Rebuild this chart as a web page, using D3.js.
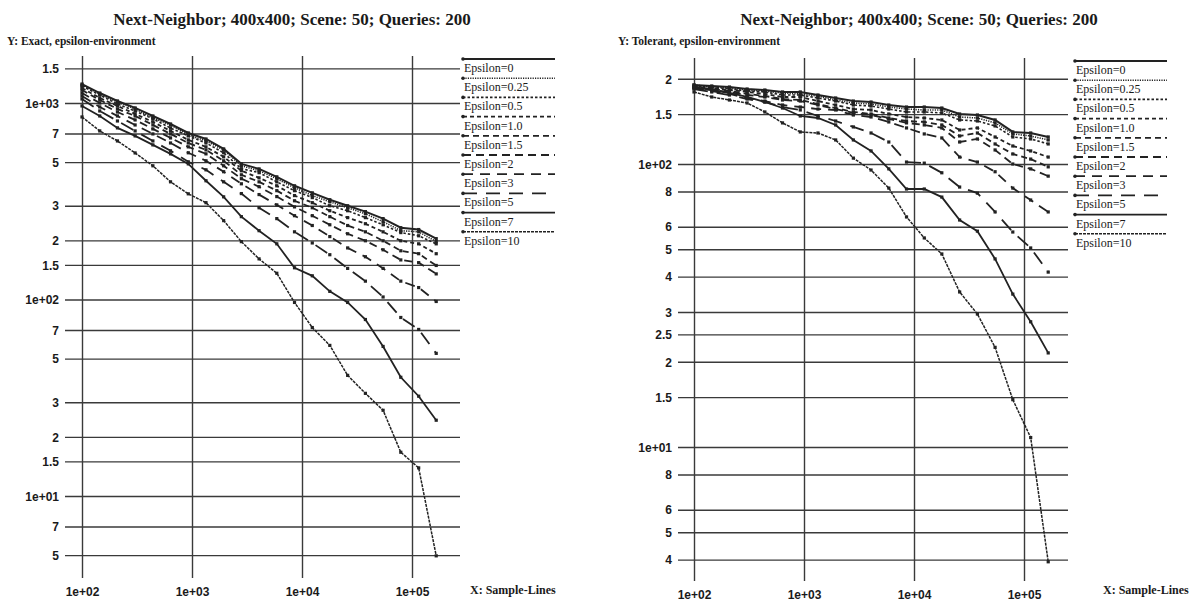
<!DOCTYPE html>
<html>
<head>
<meta charset="utf-8">
<script src="https://cdn.jsdelivr.net/npm/d3@7"></script>
<style>
  body { margin: 0; background: #fff; }
  svg { display: block; font-family: "Liberation Serif", "DejaVu Serif", serif; }
  .tick text { font-size: 12px; font-weight: bold; fill: #1a1a1a; }
  .tick line { stroke: #3a3a3a; stroke-width: 1.4; }
  .title { font-size: 17px; font-weight: bold; fill: #1a1a1a; }
  .sub { font-size: 11.5px; font-weight: bold; fill: #1a1a1a; }
  .legend text { font-size: 12px; fill: #1a1a1a; }
</style>
</head>
<body>
<div id="chart"></div>
<script>
/* Sample-line counts, shared by both panels (x). */
const sampleLines = [100, 145, 210, 304, 441, 638, 925, 1340, 1940, 2810, 4070,
  5900, 8550, 12400, 17900, 26000, 37700, 54600, 79100, 115000, 166000];

const epsilonLabels = ["Epsilon=0", "Epsilon=0.25", "Epsilon=0.5", "Epsilon=1.0", "Epsilon=1.5",
  "Epsilon=2", "Epsilon=3", "Epsilon=5", "Epsilon=7", "Epsilon=10"];

/* Left panel: exact, epsilon-environment (one row per epsilon). */
const exactValues = [
  [1249, 1124, 1024, 944, 859, 782, 704, 656, 584, 490, 462, 421, 379, 349, 322, 300, 280, 258, 232, 227, 204],
  [1234, 1111, 1012, 933, 839, 773, 688, 641, 577, 479, 452, 412, 370, 338, 314, 293, 273, 249, 224, 221, 197],
  [1220, 1098, 989, 911, 830, 746, 680, 626, 558, 463, 442, 397, 358, 330, 300, 283, 261, 240, 219, 211, 192],
  [1191, 1061, 966, 880, 801, 721, 649, 598, 532, 452, 416, 379, 338, 311, 283, 261, 243, 221, 199, 192, 171],
  [1164, 1036, 933, 859, 773, 696, 626, 577, 508, 431, 397, 358, 318, 293, 264, 238, 221, 199, 177, 171, 149],
  [1124, 1000, 900, 820, 738, 664, 598, 551, 479, 412, 375, 334, 296, 267, 240, 216, 199, 179, 159, 154, 135],
  [1086, 955, 859, 773, 696, 626, 558, 508, 447, 388, 342, 303, 267, 238, 209, 183, 165, 144, 124, 115, 97.7],
  [1048, 911, 810, 721, 641, 571, 502, 457, 397, 346, 293, 258, 221, 194, 169, 144, 124, 103, 81, 70.4, 53.2],
  [966, 859, 747, 680, 612, 551, 490, 402, 333, 264, 224, 192, 145, 132, 110, 96.6, 79.1, 57.7, 40.2, 32.2, 24.3],
  [849, 721, 641, 557, 479, 397, 345, 311, 252, 197, 161, 136, 96.6, 72, 58.4, 41.1, 33.3, 27.3, 16.7, 13.9, 4.96]
];

/* Right panel: tolerant, epsilon-environment. */
const tolerantValues = [
  [190.2, 188.7, 187.1, 184.1, 182.6, 179.7, 179.7, 175.3, 171.1, 166.9, 165.6, 161.6, 159.0, 159.0, 157.7, 150.2, 149.0, 143.1, 129.8, 128.7, 124.6],
  [190.2, 187.1, 185.6, 182.6, 181.1, 178.2, 176.8, 173.9, 168.3, 164.3, 162.9, 159.0, 156.4, 155.2, 155.2, 146.6, 145.4, 139.7, 127.7, 125.6, 121.6],
  [188.7, 187.1, 184.1, 181.1, 179.7, 175.3, 175.3, 171.1, 166.9, 161.6, 160.3, 156.4, 152.7, 152.7, 151.5, 143.1, 141.9, 136.3, 124.6, 122.6, 117.7],
  [187.1, 185.6, 182.6, 179.7, 176.8, 172.5, 172.5, 166.9, 161.6, 156.4, 155.2, 150.2, 146.6, 145.4, 143.1, 131.9, 134.1, 124.6, 115.8, 111.2, 105.8],
  [187.1, 184.1, 181.1, 176.8, 173.9, 169.7, 168.3, 162.9, 157.7, 152.7, 150.2, 145.4, 141.9, 140.8, 137.4, 125.6, 128.7, 117.7, 108.5, 104.1, 97.7],
  [185.6, 182.6, 179.7, 175.3, 172.5, 168.3, 166.9, 161.6, 156.4, 151.5, 149.0, 144.3, 139.7, 137.4, 134.1, 119.6, 122.6, 112.1, 100.0, 96.1, 90.6],
  [185.6, 181.1, 176.8, 171.1, 166.9, 161.6, 159.0, 156.4, 155.2, 149.0, 146.6, 140.8, 134.1, 127.7, 123.6, 105.8, 101.6, 93.9, 82.2, 74.6, 67.7],
  [184.1, 179.7, 175.3, 169.7, 165.6, 159.0, 155.2, 147.8, 141.9, 135.2, 128.7, 119.6, 101.6, 100.7, 93.1, 82.9, 78.9, 67.7, 57.5, 50.5, 41.5],
  [187.1, 182.6, 178.2, 172.5, 165.6, 157.7, 147.8, 145.4, 137.4, 121.6, 111.2, 96.1, 81.6, 81.6, 76.4, 63.4, 57.9, 46.2, 34.7, 27.7, 21.5],
  [179.7, 172.5, 168.3, 164.3, 152.7, 139.7, 129.8, 128.7, 121.6, 104.9, 95.2, 82.2, 65.0, 54.8, 48.1, 35.3, 29.5, 22.5, 14.7, 10.8, 3.93]
];

/* Tick values and their printed labels. */
const xTicks = [100, 1000, 10000, 100000];
const xTickLabels = ["1e+02", "1e+03", "1e+04", "1e+05"];
const exactTicks = [1500, 1000, 700, 500, 300, 200, 150, 100, 70, 50, 30, 20, 15, 10, 7, 5];
const exactTickLabels = ["1.5", "1e+03", "7", "5", "3", "2", "1.5", "1e+02", "7", "5", "3", "2", "1.5", "1e+01", "7", "5"];
const tolerantTicks = [200, 150, 100, 80, 60, 50, 40, 30, 25, 20, 15, 10, 8, 6, 5, 4];
const tolerantTickLabels = ["2", "1.5", "1e+02", "8", "6", "5", "4", "3", "2.5", "2", "1.5", "1e+01", "8", "6", "5", "4"];

const title = "Next-Neighbor; 400x400; Scene: 50; Queries: 200";

/* Line style per epsilon: dash pattern and width. */
const dashes = [null, "1.2,1.2", "2.5,2", "4,3", "6,4", "8,5", "10,7", "14,9", null, "3,1"];
const widths = [2, 1.6, 1.6, 1.8, 1.8, 1.8, 1.8, 1.8, 1.8, 1.5];

const svg = d3.select("#chart")
  .append("svg")
  .attr("width", 1204)
  .attr("height", 605);

drawPanel({
  values: exactValues,
  ticks: exactTicks,
  tickLabels: exactTickLabels,
  subtitle: "Y: Exact, epsilon-environment",
  titleX: 292, subX: 7,
  xRange: [82, 412], yDomain: [10, 1000], yRange: [496, 103],
  gridX: [65, 460], gridY: [56, 578],
  legendX: 463, legendY: 68, legendW: 92,
  xLabelX: 470
});

drawPanel({
  values: tolerantValues,
  ticks: tolerantTicks,
  tickLabels: tolerantTickLabels,
  subtitle: "Y: Tolerant, epsilon-environment",
  titleX: 919, subX: 618,
  xRange: [694, 1024], yDomain: [10, 100], yRange: [447, 164],
  gridX: [678, 1068], gridY: [58, 581],
  legendX: 1075, legendY: 70, legendW: 92,
  xLabelX: 1103
});

// ---------------- Helper functions ---------------- //

function drawPanel(p) {
  const x = d3.scaleLog().domain([100, 100000]).range(p.xRange);
  const y = d3.scaleLog().domain(p.yDomain).range(p.yRange);
  const g = svg.append("g");

  /* Titles. */
  g.append("text").attr("class", "title")
    .attr("x", p.titleX).attr("y", 25)
    .attr("text-anchor", "middle")
    .text(title);
  g.append("text").attr("class", "sub")
    .attr("x", p.subX).attr("y", 45)
    .text(p.subtitle);

  /* Horizontal grid lines with y labels. */
  const yAxis = d3.axisLeft(y)
    .tickValues(p.ticks)
    .tickFormat((d, i) => p.tickLabels[i])
    .tickSize(p.gridX[1] - p.gridX[0])
    .tickPadding(6);
  g.append("g")
    .attr("transform", "translate(" + p.gridX[1] + ",0)")
    .call(yAxis)
    .call(a => a.select(".domain").remove())
    .selectAll("text").attr("dy", "0.35em");

  /* Vertical grid lines with x labels. */
  const xAxis = d3.axisBottom(x)
    .tickValues(xTicks)
    .tickFormat((d, i) => xTickLabels[i])
    .tickSize(p.gridY[1] - p.gridY[0])
    .tickPadding(9);
  g.append("g")
    .attr("transform", "translate(0," + p.gridY[0] + ")")
    .call(xAxis)
    .call(a => a.select(".domain").remove());

  g.append("text").attr("class", "sub")
    .attr("x", p.xLabelX).attr("y", 594)
    .style("font-size", "12px")
    .text("X: Sample-Lines");

  /* One line + markers per epsilon. */
  const line = d3.line()
    .x((d, i) => x(sampleLines[i]))
    .y(d => y(d));

  p.values.forEach((series, k) => {
    g.append("path")
      .attr("d", line(series))
      .attr("fill", "none")
      .attr("stroke", "#222")
      .attr("stroke-width", widths[k])
      .attr("stroke-dasharray", dashes[k]);
    g.selectAll(null)
      .data(series)
      .enter()
      .append("rect")
      .attr("x", (d, i) => x(sampleLines[i]) - 1.6)
      .attr("y", d => y(d) - 1.6)
      .attr("width", 3.2)
      .attr("height", 3.2)
      .attr("fill", "#222");
  });

  /* Legend at the right side. */
  const legend = g.append("g").attr("class", "legend");
  epsilonLabels.forEach((label, k) => {
    const cy = p.legendY + k * 19.2;
    legend.append("line")
      .attr("x1", p.legendX).attr("x2", p.legendX + p.legendW)
      .attr("y1", cy - 9).attr("y2", cy - 9)
      .attr("stroke", "#222")
      .attr("stroke-width", widths[k])
      .attr("stroke-dasharray", dashes[k]);
    legend.append("circle")
      .attr("cx", p.legendX).attr("cy", cy - 9)
      .attr("r", 1.8).attr("fill", "#222");
    legend.append("text")
      .attr("x", p.legendX + 1).attr("y", cy + 4)
      .text(label);
  });
}
</script>
</body>
</html>
